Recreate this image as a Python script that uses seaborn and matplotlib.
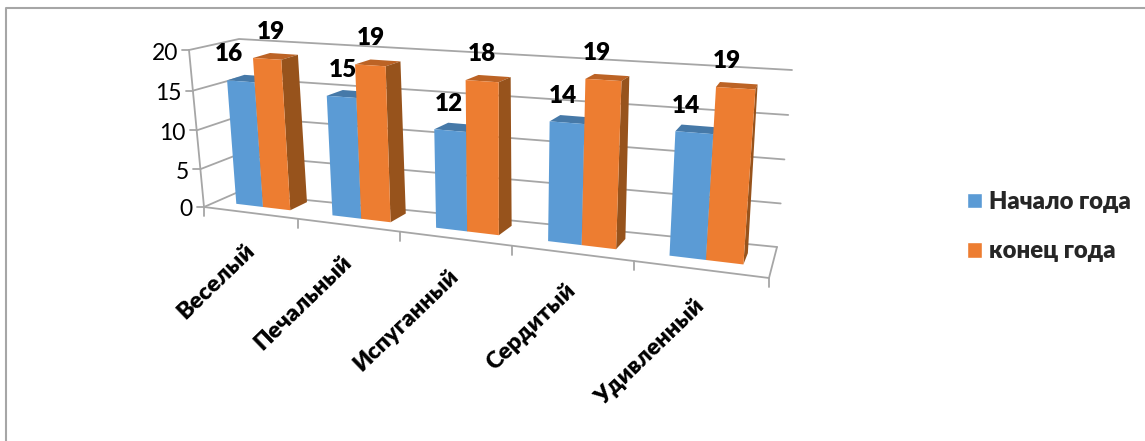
import numpy as np
import pandas as pd
import matplotlib
matplotlib.use('Agg')
import matplotlib.pyplot as plt
import seaborn as sns
from matplotlib.lines import Line2D
from matplotlib.patches import Polygon
from matplotlib.transforms import Affine2D, Transform

emotions = ['Веселый', 'Печальный', 'Испуганный', 'Сердитый', 'Удивленный']
periods = ['Начало года', 'конец года']
start_year = [16, 15, 12, 14, 14]
end_year = [19, 19, 18, 19, 19]
y_ticks = [0, 5, 10, 15, 20]

W, H = 1145, 441
BLUE, ORANGE = '#5B9BD5', '#ED7D31'
GRID = '#A6A6A6'

sns.set_theme(style='white')
plt.rcParams['font.family'] = ['Lato', 'Open Sans', 'DejaVu Sans']


def homography(src, dst):
    # 3x3 matrix taking 4 src points onto 4 dst points
    rows, rhs = [], []
    for (x, y), (u, v) in zip(src, dst):
        rows.append([x, y, 1, 0, 0, 0, -u * x, -u * y])
        rows.append([0, 0, 0, x, y, 1, -v * x, -v * y])
        rhs += [u, v]
    return np.append(np.linalg.solve(np.array(rows, float), np.array(rhs, float)), 1).reshape(3, 3)


class Perspective(Transform):
    input_dims = output_dims = 2
    is_affine = False

    def __init__(self, m):
        super().__init__()
        self.m = m

    def transform_non_affine(self, xy):
        xy = np.asarray(xy, float)
        p = np.column_stack([xy, np.ones(len(xy))]) @ self.m.T
        return p[:, :2] / p[:, 2:]


def plane(src, dst):
    return Perspective(homography(src, dst))


def pt(tr, x, y):
    return tr.transform_non_affine([[x, y]])[0]


# planes of the 3d box, data coordinates -> image pixels
bar_src = [(0, 0), (4, 0), (4, 19), (0, 19)]
bar_front = plane(bar_src, [(263, 207), (706, 260), (716, 87), (253, 58)])
bar_back = plane(bar_src, [(280, 199), (712, 249), (720, 82), (270, 53)])
box_src = [(-.5, 0), (4.5, 0), (4.5, 20), (-.5, 20)]
box_front = plane(box_src, [(204, 207), (769, 278), (785, 83), (189, 50)])
box_back = plane(box_src, [(236, 193), (777, 247), (792, 70), (239, 39)])

fig = plt.figure(figsize=(W / 100, H / 100), dpi=100)
ax = fig.add_axes([0, 0, 1, 1])
pix = Affine2D().scale(1, -1).translate(0, H)

df = pd.DataFrame({
    'emotion': emotions * 2,
    'period': [periods[0]] * 5 + [periods[1]] * 5,
    'value': start_year + end_year,
})
sns.barplot(data=df, x='emotion', y='value', hue='period', palette=[BLUE, ORANGE],
            width=0.57, gap=0, saturation=1, ax=ax)
ax.set_axis_off()


def line(points, lw=1.3, color=GRID, z=0.5):
    pts = np.array(points)
    ax.add_line(Line2D(pts[:, 0], pts[:, 1], color=color, lw=lw, transform=pix, zorder=z, clip_on=False))


# frame of the chart
line([(6, H), (6, 7.5), (W, 7.5)], lw=1.5, z=0.4)

# walls, floor and ticks
for v in y_ticks:
    line([pt(box_front, -.5, v), pt(box_back, -.5, v), pt(box_back, 4.5, v)])
    a = pt(box_front, -.5, v)
    line([a, a + (-7, 0)])
    ax.text(a[0] - 11, a[1] + 3, str(v), transform=pix, ha='right', va='center', fontsize=16.5, color='black')
line([pt(box_front, -.5, 20), pt(box_front, -.5, 0), pt(box_front, 4.5, 0), pt(box_back, 4.5, 0)])
for i in range(6):
    a = pt(box_front, i - .5, 0)
    line([a, a + (0, 9)])

# category labels, anchored at the end of the text
for i, name in enumerate(emotions):
    a = pt(box_front, i, 0)
    ax.text(a[0] + 1, a[1] + 34, name, transform=pix, rotation=44, rotation_mode='anchor',
            ha='right', va='center', fontsize=16.8, fontweight='heavy', color='black')

dark = {BLUE: ('#4679A8', '#3E6C96'), ORANGE: ('#BC6325', '#97531C')}
label_dx = [[-12, 1, -1, -4, -8], [4, 1, 0, -6, -9]]
for s, container in enumerate(ax.containers):
    color = [BLUE, ORANGE][s]
    for i, bar in enumerate(container):
        bar.set_transform(bar_front + pix)
        bar.set_clip_on(False)
        bar.set_linewidth(0)
        x0, x1, v = bar.get_x(), bar.get_x() + bar.get_width(), bar.get_height()
        top = [pt(bar_front, x0, v), pt(bar_front, x1, v), pt(bar_back, x1, v), pt(bar_back, x0, v)]
        side = [pt(bar_front, x1, 0), pt(bar_front, x1, v), pt(bar_back, x1, v), pt(bar_back, x1, 0)]
        z = 0.8 + s * 0.1
        ax.add_patch(Polygon(top, fc=dark[color][0], lw=0, transform=pix, zorder=z, clip_on=False))
        ax.add_patch(Polygon(side, fc=dark[color][1], lw=0, transform=pix, zorder=z, clip_on=False))
        c = pt(bar_front, (x0 + x1) / 2, v)
        ax.text(c[0] + label_dx[s][i], c[1] - 27, str(int(v)), transform=pix, ha='center', va='center',
                fontsize=17.5, fontweight='heavy', color='black')

handles = [plt.Rectangle((0, 0), 1, 1, fc=BLUE), plt.Rectangle((0, 0), 1, 1, fc=ORANGE)]
ax.legend(handles, periods, loc='upper left', bbox_to_anchor=(966.5 / W, 1 - 191 / H), bbox_transform=fig.transFigure,
          frameon=False, prop={'size': 17.2, 'weight': 'heavy'}, handlelength=0.63, handleheight=0.63,
          handletextpad=0.3, labelspacing=1.15, borderpad=0, borderaxespad=0)

fig.savefig('out.png', dpi=100, facecolor='white')
